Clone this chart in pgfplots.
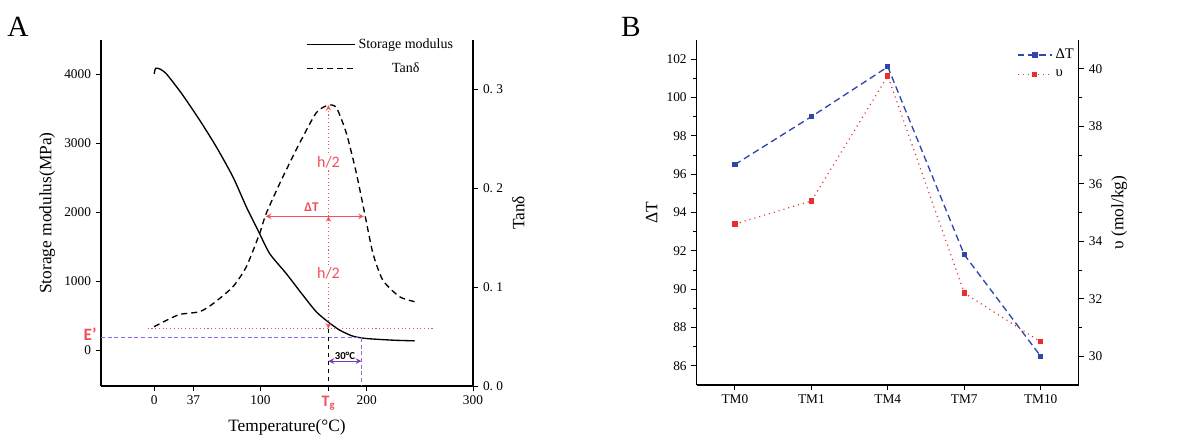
\documentclass[border=0pt]{standalone}
\usepackage{fontspec}
\setmainfont{Liberation Serif}
\newfontfamily\annfont{Carlito}
\usepackage{pgfplots}
\pgfplotsset{compat=1.18}
\definecolor{annred}{RGB}{240,80,90}
\definecolor{annpurple}{RGB}{150,100,230}
\definecolor{arrpurple}{RGB}{110,60,180}
\definecolor{bblue}{RGB}{50,70,170}
\definecolor{bred}{RGB}{235,45,45}
\pgfplotsset{
  myaxis/.style={
    scale only axis,
    tick align=outside,
    /pgf/number format/assume math mode=true,
    /pgf/number format/1000 sep={},
    tick label style={font=\fontsize{10}{12}\selectfont},
    label style={font=\fontsize{13}{15}\selectfont},
    axis line style={line width=0.8pt},
    tick style={line width=0.7pt, black},
    major tick length=4pt,
    minor tick length=2.5pt,
    clip=false,
  }
}
\begin{document}
\begin{tikzpicture}
\path[use as bounding box] (0pt,0pt) rectangle (889.5pt,327pt);
\node[font=\fontsize{22}{24}\selectfont] at (13.5pt,306.75pt) {A};
\node[font=\fontsize{22}{24}\selectfont] at (473.25pt,306.75pt) {B};

% ---------------- Panel A: left axis
\begin{axis}[myaxis,
  at={(75.75pt,37.5pt)}, anchor=south west,
  width=279pt, height=259.5pt,
  xmin=-50, xmax=300, ymin=-520, ymax=4500,
  axis x line*=bottom, axis y line*=left,
  xtick={0,37,100,164,200,300},
  xticklabels={0,37,100,{\annfont\bfseries\fontsize{12}{13}\selectfont\color{annred}T\textsubscript{g}},200,300},
  ytick={0,1000,2000,3000,4000},
  xlabel={Temperature(°C)},
  ylabel={Storage modulus(MPa)},
]
\addplot[black, line width=1pt, smooth, tension=0.4] coordinates {
(0,4010) (1.5,4090) (6,4075) (12,4000) (26,3720) (43,3333) (58.6,2947)
(74.2,2512) (86.8,2077) (97.7,1739) (108.7,1401) (124.3,1111) (140,797)
(152.6,556) (163.6,411) (174.6,290) (187,203) (199.6,169) (224.6,145) (245,135)
};
% annotations
\draw[annred, dotted, line width=0.8pt] (axis cs:-6,314) -- (axis cs:262,314);
\draw[annpurple, dash pattern=on 3pt off 2pt, line width=0.8pt] (axis cs:-50,178) -- (axis cs:195,178);
\draw[annpurple, dash pattern=on 3pt off 2pt, line width=0.8pt] (axis cs:195,178) -- (axis cs:195,-520);
\draw[black, dashed, line width=0.9pt] (axis cs:164,314) -- (axis cs:164,-520);
\draw[arrpurple, line width=0.9pt, <->, >=stealth] (axis cs:164,-159) -- (axis cs:195,-159);
\node[font=\annfont\bfseries\fontsize{8}{9}\selectfont] at (axis cs:179.5,-80) {30°C};
\node[font=\annfont\bfseries\fontsize{13}{14}\selectfont, text=annred, anchor=south east, inner sep=0pt] at (axis cs:-54,140) {E’};
\end{axis}

% ---------------- Panel A: right axis
\begin{axis}[myaxis,
  at={(75.75pt,37.5pt)}, anchor=south west,
  width=279pt, height=259.5pt,
  xmin=-50, xmax=300, ymin=0, ymax=0.35,
  axis x line=none, axis y line*=right,
  ytick={0,0.1,0.2,0.3},
  yticklabels={0.\ 0,0.\ 1,0.\ 2,0.\ 3},
  ylabel={Tanδ},
  legend style={at={(0.965,1.02)}, anchor=north east, draw=none, fill=none,
    font=\fontsize{10.5}{12}\selectfont, row sep=5pt},
  legend cell align=center,
  legend image code/.code={\draw[#1] (0pt,0pt) -- (36pt,0pt);},
]
\addlegendimage{black, line width=1pt}
\addlegendentry{Storage modulus}
\addplot[black, line width=1pt, dash pattern=on 4.5pt off 3pt, smooth, tension=0.4] coordinates {
(0,0.060) (12,0.0667) (24.5,0.0725) (43,0.0752) (55.8,0.0836) (74.2,0.1005)
(86.8,0.1208) (99.4,0.1547) (105.6,0.175) (121.3,0.212) (137,0.246)
(152.6,0.2765) (163.6,0.284) (171.4,0.2816) (180.8,0.256) (190.2,0.2156)
(198,0.175) (205.8,0.1344) (215.2,0.107) (230.8,0.0904) (245,0.0853)
};
\addlegendentry{Tanδ}
\draw[annred, line width=0.9pt, <->, >=stealth] (axis cs:105,0.1716) -- (axis cs:197.4,0.1716);
\node[font=\annfont\bfseries\fontsize{10}{11}\selectfont, text=annred, anchor=south] at (axis cs:148,0.1716) {ΔT};
\draw[annred, dotted, line width=0.8pt, ->, >=stealth] (axis cs:164,0.1716) -- (axis cs:164,0.284);
\draw[annred, dotted, line width=0.8pt, <->, >=stealth] (axis cs:164,0.058) -- (axis cs:164,0.1716);
\node[font=\annfont\fontsize{12}{13}\selectfont, text=annred, fill=white, inner sep=1pt] at (axis cs:164,0.2258) {h/2};
\node[font=\annfont\fontsize{12}{13}\selectfont, text=annred, fill=white, inner sep=1pt] at (axis cs:164,0.114) {h/2};
\end{axis}

% ---------------- Panel B: left axis
\begin{axis}[myaxis,
  at={(522.5pt,38.25pt)}, anchor=south west,
  width=286.7pt, height=258.75pt,
  xmin=-0.5, xmax=4.5, ymin=85, ymax=103,
  axis x line*=bottom, axis y line*=left,
  xtick={0,1,2,3,4},
  xticklabels={TM0,TM1,TM4,TM7,TM10},
  ytick={86,88,...,102}, minor y tick num=1,
  ylabel={ΔT},
]
\addplot[bblue, line width=1pt, dash pattern=on 5pt off 3pt, mark=square*, mark size=1.5pt, mark options={solid}] coordinates {
(0,96.5) (1,99.0) (2,101.6) (3,91.8) (4,86.5)
};
\end{axis}

% ---------------- Panel B: right axis
\begin{axis}[myaxis,
  at={(522.5pt,38.25pt)}, anchor=south west,
  width=286.7pt, height=258.75pt,
  xmin=-0.5, xmax=4.5, ymin=29, ymax=41,
  axis x line=none, axis y line*=right,
  ytick={30,32,...,40}, minor y tick num=1,
  ylabel={υ (mol/kg)},
  legend style={at={(1.005,0.99)}, anchor=north east, draw=none, fill=none,
    font=\fontsize{11}{12}\selectfont, row sep=3pt},
  legend cell align=left,
  legend image code/.code={%
    \draw[#1,mark repeat=2,mark phase=2] plot coordinates {(0pt,0pt) (13pt,0pt) (26pt,0pt)};},
]
\addlegendimage{bblue, line width=1pt, dash pattern=on 5pt off 3pt, mark=square*, mark size=1.5pt, mark options={solid}}
\addlegendentry{ΔT}
\addplot[bred, line width=0.9pt, dash pattern=on 0.8pt off 3pt, mark=square*, mark size=1.5pt, mark options={solid}] coordinates {
(0,34.6) (1,35.4) (2,39.75) (3,32.2) (4,30.5)
};
\addlegendentry{υ}
\end{axis}
\end{tikzpicture}
\end{document}
